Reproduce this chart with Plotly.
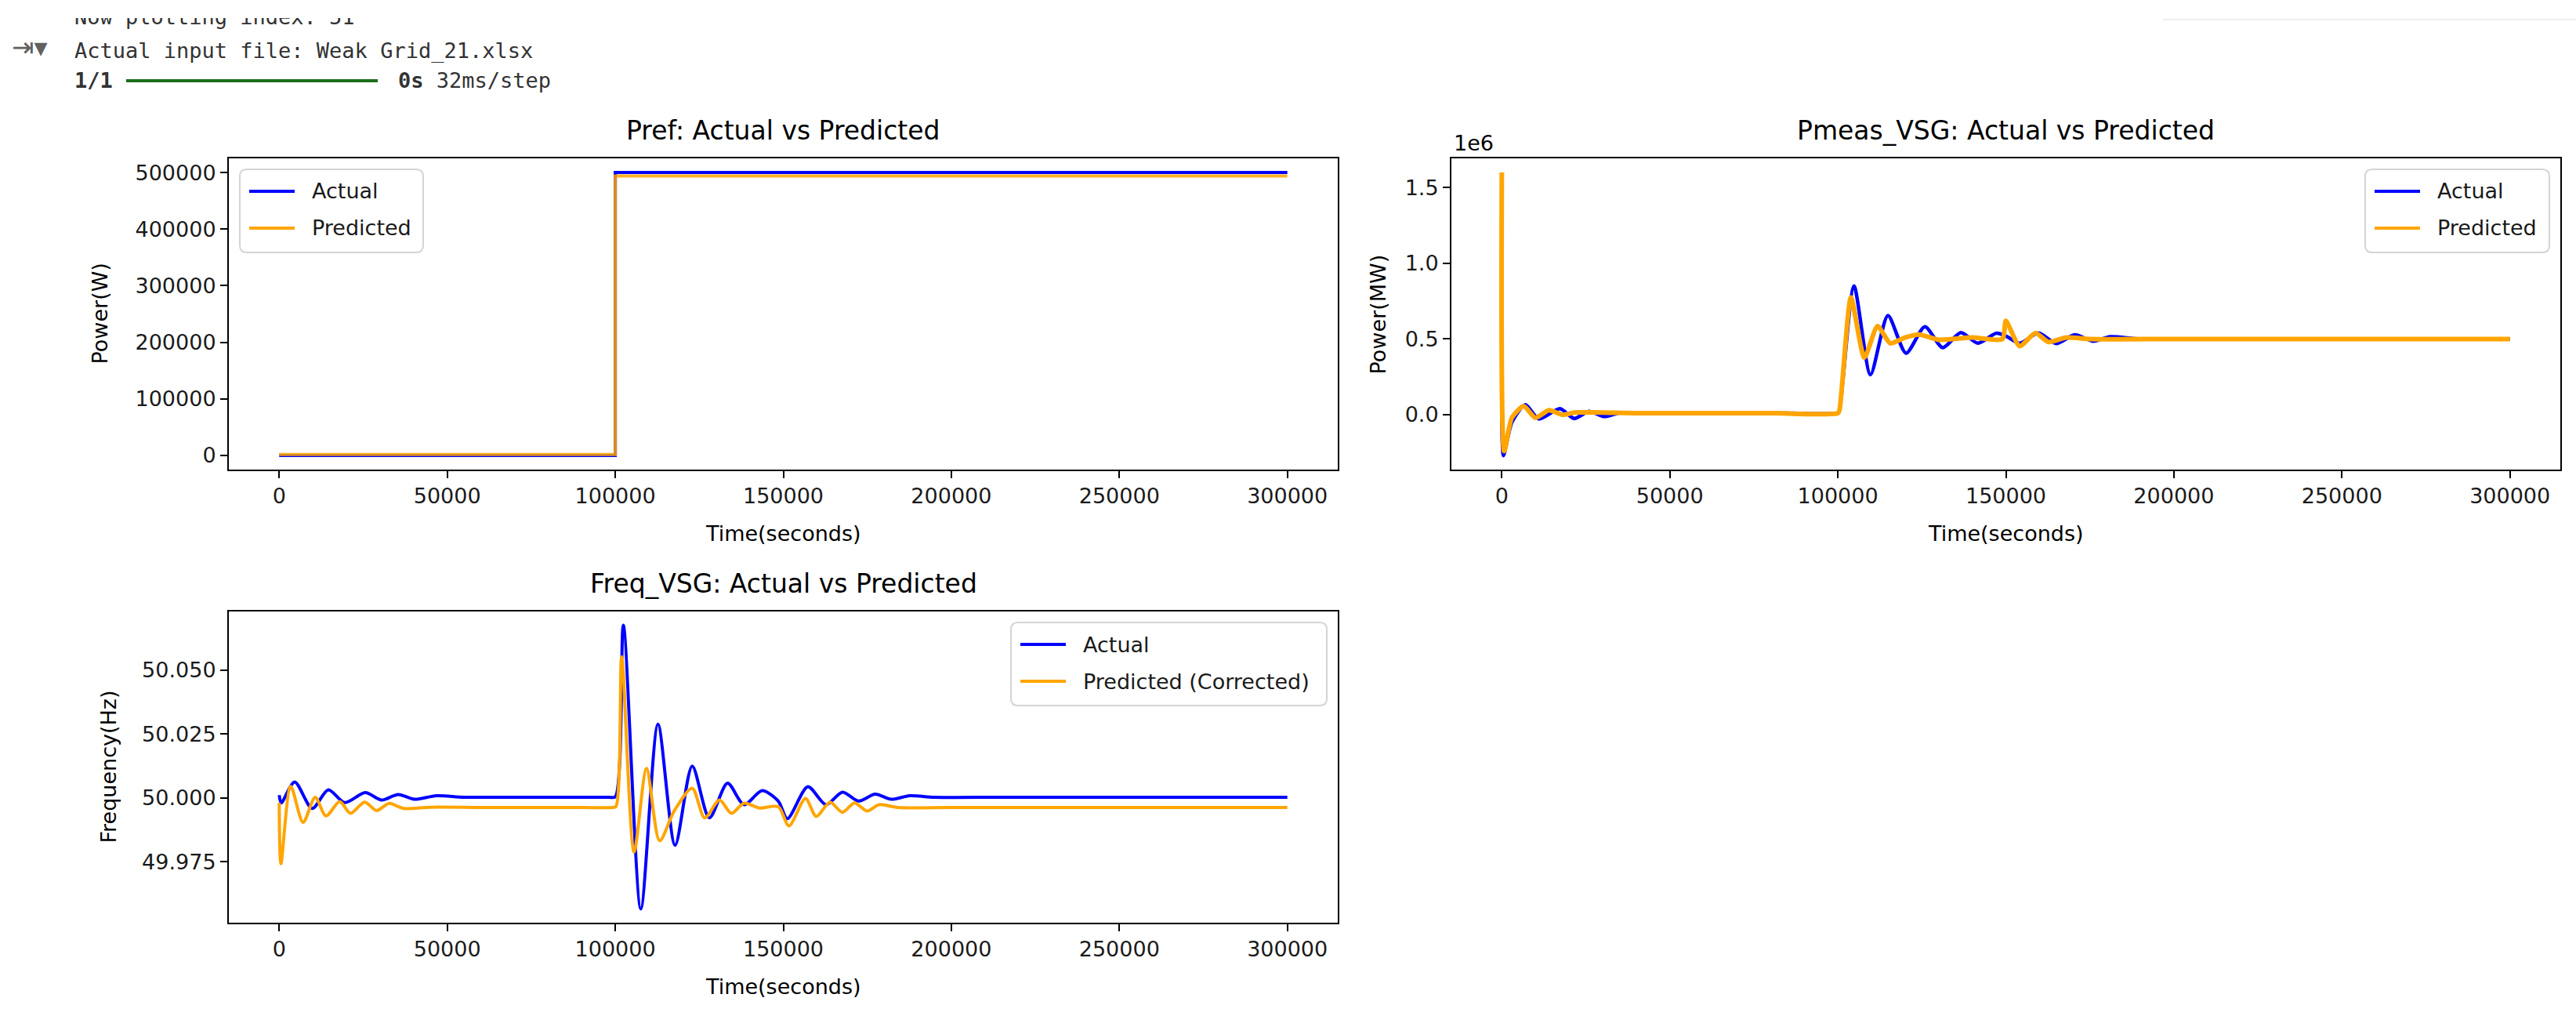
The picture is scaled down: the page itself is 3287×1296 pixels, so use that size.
import plotly.graph_objects as go

W, H = 3287, 1296

# ---------------- data ----------------
x_ticks = [0, 50000, 100000, 150000, 200000, 250000, 300000]
x_ticktext = ["0", "50000", "100000", "150000", "200000", "250000", "300000"]

# Pref (W)
pref_t_actual = [0, 100000, 100000, 299999]
pref_actual = [0, 0, 500000, 500000]
pref_t_pred = [0, 100000, 100000, 299999]
pref_pred = [1500, 1500, 494000, 494000]
pref_yticks = [0, 100000, 200000, 300000, 400000, 500000]
pref_yticktext = ["0", "100000", "200000", "300000", "400000", "500000"]

# Pmeas_VSG (W)
pmeas_t_actual = [0, 500, 3000, 7000, 11000, 17300, 21500, 26000, 30500, 35000, 40000,
                  55000, 70000, 85000, 100000, 100400, 104800, 109700, 114900, 120300,
                  125900, 131200, 136600, 141700, 147100, 150000, 154100, 159700, 165000,
                  170500, 176000, 181000, 190000, 220000, 260000, 299999]
pmeas_actual = [0, -270000, -50000, 66000, -28000, 40000, -25000, 22000, -12000, 12000, 10000,
                10000, 10000, 10000, 10000, 20000, 850000, 264000, 655000, 406000,
                581000, 443000, 542000, 472000, 538000, 520000, 472000, 540000, 470000,
                528000, 485000, 515000, 500000, 500000, 500000, 500000]
pmeas_t_pred = [0, 700, 3000, 6500, 10000, 14000, 18000, 22000, 40000, 60000, 80000, 100000,
                100500, 103900, 107900, 111800, 115600, 120000, 124200, 130000, 140000, 149000,
                150000, 154100, 158800, 162700, 168000, 175000, 200000, 240000, 299999]
pmeas_pred = [1600000, -240000, -20000, 57000, -20000, 30000, 0, 15000, 10000, 10000, 10000, 10000,
              30000, 774000, 377000, 585000, 472000, 510000, 530000, 495000, 510000, 500000,
              620000, 453000, 540000, 480000, 510000, 500000, 500000, 500000, 500000]
pmeas_yticks = [0.0, 0.5, 1.0, 1.5]
pmeas_yticktext = ["0.0", "0.5", "1.0", "1.5"]

# Freq_VSG (Hz)
freq_t_actual = [0, 600, 4600, 9800, 14600, 19500, 25600, 30500, 35400, 40200, 46800, 55000,
                 70000, 85000, 98000, 100000, 102400, 107600, 112700, 117800, 122900, 128000,
                 133400, 138300, 143700, 148500, 151200, 157300, 162700, 167600, 172400,
                 177300, 182200, 187600, 195000, 215000, 245000, 275000, 299999]
freq_actual = [50.001, 49.998, 50.0062, 49.9958, 50.0031, 49.9981, 50.002, 49.9991, 50.0013,
               49.9994, 50.0008, 50.0002, 50.0002, 50.0002, 50.0002, 50.0004, 50.0675, 49.9565,
               50.0288, 49.9814, 50.0124, 49.9921, 50.0057, 49.9973, 50.0028, 49.9987,
               49.9918, 50.0043, 49.9973, 50.0022, 49.9987, 50.0014, 49.9994, 50.0008,
               50.0002, 50.0002, 50.0002, 50.0002, 50.0002]
freq_t_pred = [0, 500, 3400, 7100, 10700, 13900, 18000, 21200, 25400, 29000, 32700, 37000,
               45000, 60000, 75000, 90000, 99000, 100200, 101900, 105600, 109300, 113200, 117600,
               122900, 126600, 131000, 134600, 138300, 143000, 148500, 151700, 156600, 159800,
               163900, 167600, 171200, 174900, 178500, 184000, 200000, 230000, 260000, 299999]
freq_pred = [49.998, 49.9742, 50.0045, 49.9904, 50.0002, 49.9929, 49.9985, 49.9939, 49.9983,
             49.995, 49.9978, 49.9958, 49.9963, 49.9962, 49.9962, 49.9962, 49.9962, 49.9966,
             50.0552, 49.9788, 50.0115, 49.9832, 49.9950, 50.0037, 49.9921, 49.9991, 49.9939,
             49.9979, 49.9960, 49.9965, 49.989, 49.9997, 49.9927, 49.9983, 49.9943, 49.998,
             49.9948, 49.9973, 49.9962, 49.9962, 49.9962, 49.9962, 49.9962]
freq_yticks = [49.975, 50.000, 50.025, 50.050]
freq_yticktext = ["49.975", "50.000", "50.025", "50.050"]

legend_labels_1 = ["Actual", "Predicted"]
legend_labels_2 = ["Actual", "Predicted"]
legend_labels_3 = ["Actual", "Predicted (Corrected)"]

header_lines = ["Now plotting index: 51", "Actual input file: Weak Grid_21.xlsx"]

# ---------------- helpers ----------------
def px(x):
    return x / W

def py(y):
    return 1 - y / H

BLUE = "#0000ff"
ORANGE = "#ffa500"
FONT = "DejaVu Sans"
MONO = "DejaVu Sans Mono"

fig = go.Figure()

# Pref
fig.add_trace(go.Scatter(x=pref_t_actual, y=pref_actual, mode="lines", name="Actual",
                         line=dict(color=BLUE, width=4), xaxis="x", yaxis="y"))
fig.add_trace(go.Scatter(x=pref_t_pred, y=pref_pred, mode="lines", name="Predicted",
                         line=dict(color=ORANGE, width=4), opacity=0.85, xaxis="x", yaxis="y"))
# Pmeas
fig.add_trace(go.Scatter(x=pmeas_t_actual, y=[v / 1e6 for v in pmeas_actual], mode="lines",
                         name="Actual", line=dict(color=BLUE, width=4.5, shape="spline", smoothing=0.7),
                         xaxis="x2", yaxis="y2"))
fig.add_trace(go.Scatter(x=pmeas_t_pred, y=[v / 1e6 for v in pmeas_pred], mode="lines",
                         name="Predicted", line=dict(color=ORANGE, width=6, shape="spline", smoothing=0.6),
                         xaxis="x2", yaxis="y2"))
# Freq
fig.add_trace(go.Scatter(x=freq_t_actual, y=freq_actual, mode="lines", name="Actual",
                         line=dict(color=BLUE, width=4, shape="spline", smoothing=0.8),
                         xaxis="x3", yaxis="y3"))
fig.add_trace(go.Scatter(x=freq_t_pred, y=freq_pred, mode="lines", name="Predicted (Corrected)",
                         line=dict(color=ORANGE, width=4, shape="spline", smoothing=0.8),
                         xaxis="x3", yaxis="y3"))

axis_common = dict(showline=True, mirror=True, linecolor="#000000", linewidth=2,
                   ticks="outside", ticklen=9, tickwidth=2, tickcolor="#000000",
                   showgrid=False, zeroline=False,
                   tickfont=dict(family=FONT, size=27, color="#1a1a1a"))

boxes = {
    "1": (292, 1707, 202, 599),
    "2": (1852, 3267, 202, 599),
    "3": (292, 1707, 780, 1177),
}

layout = dict(width=W, height=H, margin=dict(l=0, r=0, t=0, b=0),
              paper_bgcolor="white", plot_bgcolor="white", showlegend=False)

for k, (x0, x1, y0, y1) in boxes.items():
    xa = "xaxis" if k == "1" else f"xaxis{k}"
    ya = "yaxis" if k == "1" else f"yaxis{k}"
    layout[xa] = dict(domain=[px(x0), px(x1)], anchor="y" if k == "1" else f"y{k}",
                      range=[-15000, 315000], tickvals=x_ticks, ticktext=x_ticktext,
                      **axis_common)
    layout[ya] = dict(domain=[py(y1), py(y0)], anchor="x" if k == "1" else f"x{k}", **axis_common)

layout["yaxis"].update(range=[-25000, 525000], tickvals=pref_yticks, ticktext=pref_yticktext)
layout["yaxis2"].update(range=[-0.3625, 1.6935], tickvals=pmeas_yticks, ticktext=pmeas_yticktext)
layout["yaxis3"].update(range=[49.9511, 50.0729], tickvals=freq_yticks, ticktext=freq_yticktext)

fig.update_layout(**layout)

ann = []
shapes = []

def text(x, y, s, size=27, family=FONT, xanchor="center", yanchor="middle", angle=0, color="#000000"):
    ann.append(dict(x=px(x), y=py(y), xref="paper", yref="paper", text=s, showarrow=False,
                    xanchor=xanchor, yanchor=yanchor, textangle=angle,
                    font=dict(family=family, size=size, color=color)))

def legend_box(x0, x1, y0, y1, labels, colors, r=9):
    # rounded frame (matplotlib style)
    X0, X1, Y0, Y1 = px(x0), px(x1), py(y0), py(y1)
    rx, ry = r / W, r / H
    path = (f"M {X0+rx},{Y0} L {X1-rx},{Y0} Q {X1},{Y0} {X1},{Y0-ry} "
            f"L {X1},{Y1+ry} Q {X1},{Y1} {X1-rx},{Y1} L {X0+rx},{Y1} "
            f"Q {X0},{Y1} {X0},{Y1+ry} L {X0},{Y0-ry} Q {X0},{Y0} {X0+rx},{Y0} Z")
    shapes.append(dict(type="path", path=path, xref="paper", yref="paper", layer="above",
                       fillcolor="rgba(255,255,255,0.8)", line=dict(color="#d4d4d4", width=2)))
    for i, (lab, col) in enumerate(zip(labels, colors)):
        yy = y0 + 28 + 47 * i
        shapes.append(dict(type="line", xref="paper", yref="paper", layer="above",
                           x0=px(x0 + 12), x1=px(x0 + 70), y0=py(yy), y1=py(yy),
                           line=dict(color=col, width=4)))
        text(x0 + 90, yy, lab, size=27, xanchor="left", color="#1a1a1a")

legend_box(306, 540, 216, 322, legend_labels_1, [BLUE, ORANGE])
legend_box(3018, 3253, 216, 322, legend_labels_2, [BLUE, ORANGE])
legend_box(1290, 1693, 794, 900, legend_labels_3, [BLUE, ORANGE])

# titles
text(999.5, 167, "Pref: Actual vs Predicted", size=33)
text(2559.5, 167, "Pmeas_VSG: Actual vs Predicted", size=33)
text(999.5, 744, "Freq_VSG: Actual vs Predicted", size=33)
# axis titles
text(999.5, 681, "Time(seconds)", size=27)
text(2559.5, 681, "Time(seconds)", size=27)
text(999.5, 1258, "Time(seconds)", size=27)
text(127, 400.5, "Power(W)", size=27, angle=-90)
text(1758, 400.5, "Power(MW)", size=27, angle=-90)
text(138, 978.5, "Frequency(Hz)", size=27, angle=-90)
# offset text
text(1853, 182, "1e6", size=27, xanchor="left")

# header (notebook output)
text(93, 22, header_lines[0], size=27, family=MONO, xanchor="left", color="#333333")
# cover the clipped top of first line
ann.append(dict(x=0, y=1, xref="paper", yref="paper", text=" ", showarrow=False,
                xanchor="left", yanchor="top", width=900, height=23, bgcolor="white",
                borderpad=0, borderwidth=0))
text(93, 65, header_lines[1], size=27, family=MONO, xanchor="left", color="#333333")
text(93, 103, "<b>1/1</b>", size=27, family=MONO, xanchor="left", color="#333333")
text(506, 103, "<b>0s</b> 32ms/step", size=27, family=MONO, xanchor="left", color="#333333")
text(38, 60, "⇥▾", size=34, color="#616161")

shapes.append(dict(type="line", xref="paper", yref="paper", x0=px(161), x1=px(482),
                   y0=py(103), y1=py(103), line=dict(color="#1b6e1b", width=4)))
shapes.append(dict(type="line", xref="paper", yref="paper", x0=px(2760), x1=1,
                   y0=py(25), y1=py(25), line=dict(color="#eeeeee", width=2)))

fig.update_layout(annotations=ann, shapes=shapes)

fig.write_html("out.html")
